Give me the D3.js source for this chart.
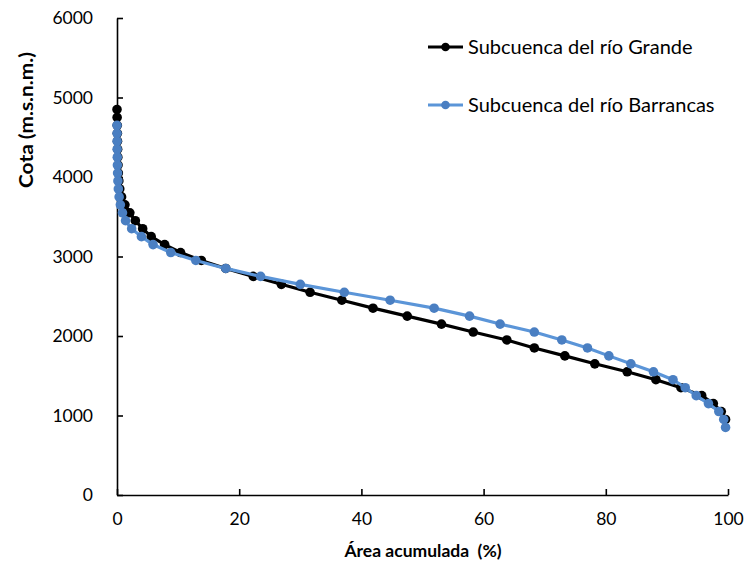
<!DOCTYPE html>
<html>
<head>
<meta charset="utf-8">
<script src="https://cdn.jsdelivr.net/npm/d3@7"></script>
<style>
  html, body { margin: 0; padding: 0; background: #fff; }
  svg { display: block; }
  text { font-family: Lato, "Open Sans", sans-serif; fill: #000; }
</style>
</head>
<body>
<svg id="chart" width="745" height="572"></svg>
<script>
// Hypsometric curves: cumulative area (%) vs. elevation band midpoint (m)
const grandeElev = [4850, 4750, 4650, 4550, 4450, 4350, 4250, 4150, 4050, 3950,
  3850, 3750, 3650, 3550, 3450, 3350, 3250, 3150, 3050, 2950,
  2850, 2750, 2650, 2550, 2450, 2350, 2250, 2150, 2050, 1950,
  1850, 1750, 1650, 1550, 1450, 1350, 1250, 1150, 1050, 950];
const grandeArea = [0, 0.02, 0.04, 0.06, 0.08, 0.1, 0.13, 0.17, 0.22, 0.3,
  0.45, 0.75, 1.3, 2.1, 3.0, 4.2, 5.6, 7.8, 10.4, 13.8,
  17.8, 22.3, 26.9, 31.6, 36.8, 41.9, 47.5, 53.1, 58.3, 63.8,
  68.3, 73.3, 78.2, 83.5, 88.2, 92.3, 95.7, 97.6, 98.9, 99.6];

const barrancasElev = [4650, 4550, 4450, 4350, 4250, 4150, 4050, 3950, 3850, 3750,
  3650, 3550, 3450, 3350, 3250, 3150, 3050, 2950, 2850, 2750,
  2650, 2550, 2450, 2350, 2250, 2150, 2050, 1950, 1850, 1750,
  1650, 1550, 1450, 1350, 1250, 1150, 1050, 950, 850];
const barrancasArea = [0, 0.01, 0.02, 0.03, 0.05, 0.07, 0.1, 0.15, 0.22, 0.35,
  0.55, 0.9, 1.4, 2.4, 4.0, 5.9, 8.8, 12.9, 17.8, 23.5,
  30.0, 37.2, 44.7, 51.9, 57.7, 62.7, 68.3, 72.8, 77.0, 80.5,
  84.1, 87.8, 91.0, 93.0, 94.8, 96.8, 98.5, 99.3, 99.6];

const xTicks = [0, 20, 40, 60, 80, 100];
const yTicks = [0, 1000, 2000, 3000, 4000, 5000, 6000];

const seriesNames = ["Subcuenca del río Grande", "Subcuenca del río Barrancas"];
const lineColors = ["#000000", "#5b95d8"];
const markerColors = ["#000000", "#4a7fc2"];

const svg = d3.select("#chart");
const m = { left: 117, right: 17, top: 18, bottom: 77 };
const W = 745, H = 572;

const x = d3.scaleLinear().domain([0, 100]).range([m.left, W - m.right]);
const y = d3.scaleLinear().domain([0, 6000]).range([H - m.bottom, m.top]);

// Axes
const xAxis = d3.axisBottom(x).tickValues(xTicks).tickFormat(d3.format("d"))
  .tickSizeInner(-6).tickSizeOuter(0).tickPadding(18);
const yAxis = d3.axisLeft(y).tickValues(yTicks).tickFormat(d3.format("d"))
  .tickSizeInner(-6).tickSizeOuter(0).tickPadding(24);

const gx = svg.append("g").attr("transform", `translate(0,${y(0)})`).call(xAxis);
const gy = svg.append("g").attr("transform", `translate(${x(0)},0)`).call(yAxis);
[gx, gy].forEach(g => {
  g.select(".domain").attr("stroke", "#000").attr("stroke-width", 1.6);
  g.selectAll(".tick line").attr("stroke", "#000").attr("stroke-width", 1.6);
  g.selectAll(".tick text").attr("font-size", 17.5).attr("font-family", "Lato, sans-serif").attr("fill", "#000");
});

// Axis titles
svg.append("text")
  .attr("x", 423).attr("y", 557)
  .attr("text-anchor", "middle")
  .attr("font-size", 17.5).attr("font-weight", "bold")
  .attr("xml:space", "preserve")
  .text("Área acumulada  (%)");
svg.append("text")
  .attr("transform", "translate(33,120) rotate(-90)")
  .attr("text-anchor", "middle")
  .attr("font-size", 19).attr("font-weight", "bold")
  .attr("textLength", 136).attr("lengthAdjust", "spacingAndGlyphs")
  .text("Cota (m.s.n.m.)");

// Series
const series = [
  grandeArea.map((a, i) => ({ a, e: grandeElev[i] })),
  barrancasArea.map((a, i) => ({ a, e: barrancasElev[i] }))
];
const line = d3.line().x(d => x(d.a)).y(d => y(d.e));

series.forEach((pts, k) => {
  const g = svg.append("g");
  g.append("path").datum(pts)
    .attr("fill", "none")
    .attr("stroke", lineColors[k])
    .attr("stroke-width", 3.2)
    .attr("stroke-linejoin", "round")
    .attr("d", line);
  g.selectAll("circle").data(pts).join("circle")
    .attr("cx", d => x(d.a)).attr("cy", d => y(d.e))
    .attr("r", 4.8)
    .attr("fill", markerColors[k]);
});

// Legend
const legendY = [47, 105];
seriesNames.forEach((name, k) => {
  const g = svg.append("g").attr("transform", `translate(428,${legendY[k]})`);
  g.append("line").attr("x1", 0).attr("x2", 35).attr("y1", 0).attr("y2", 0)
    .attr("stroke", lineColors[k]).attr("stroke-width", 3.2);
  g.append("circle").attr("cx", 17.5).attr("cy", 0).attr("r", 4.3).attr("fill", markerColors[k]);
  g.append("text").attr("x", 40).attr("y", 7).attr("font-size", 20).text(name);
});
</script>
</body>
</html>
